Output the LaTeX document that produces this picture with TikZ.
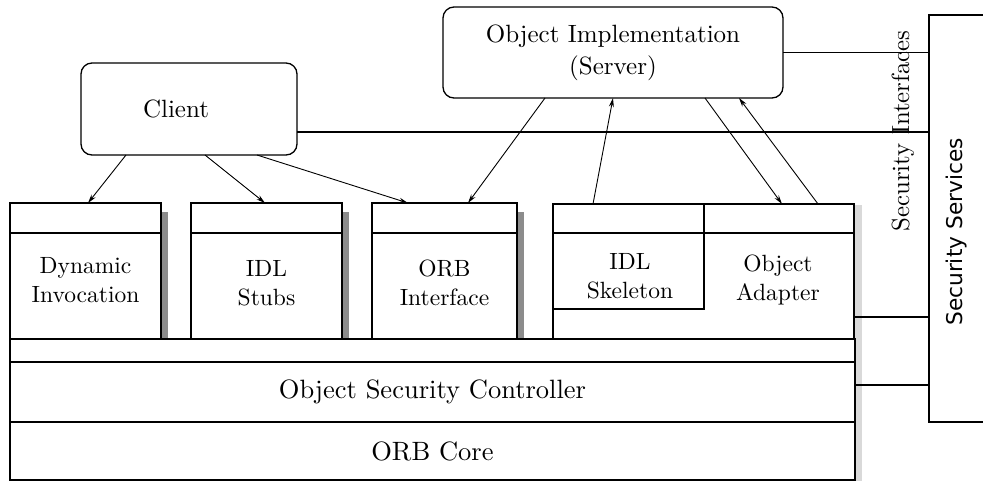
\documentclass[tikz,border=0pt]{standalone}
\usepackage{fontspec}
\setmainfont{lmroman10-regular}[Extension=.otf]
\newfontfamily\secsans{DejaVu Sans}
\usetikzlibrary{arrows.meta,calc}
\begin{document}
\begin{tikzpicture}[x=1pt,y=-1pt,line width=1.3pt,
  box/.style={draw,rectangle,inner sep=0pt,outer sep=0pt},
  actor/.style={draw,rounded corners=11pt,inner sep=0pt,outer sep=0pt,align=center,
    font=\fontsize{25}{32}\selectfont},
  lbl/.style={align=center,inner sep=0pt,font=\fontsize{23.5}{28.5}\selectfont},
  layer/.style={box,minimum width=845pt,font=\fontsize{26.5}{30}\selectfont},
  call/.style={-{Stealth[length=9pt,width=5pt]},line width=0.9pt},
  darkshade/.style={fill=black!45,draw=none},
  lightshade/.style={fill=black!15,draw=none}]
\useasboundingbox (0,0) rectangle (983,483);

% soft drop shadows on the right edges
\fill[lightshade] (855,205) rectangle (862,481);
\fill[darkshade] (162,212) rectangle (168,339);
\fill[darkshade] (343,212) rectangle (349,339);
\fill[darkshade] (518,212) rectangle (524,339);

% client and server
\node[actor,minimum width=216pt,minimum height=92pt] (client) at (189,109) {};
\node[inner sep=0pt,font=\fontsize{25}{32}\selectfont] (clienttext) at (176,109) {Client};
\node[actor,minimum width=340pt,minimum height=91pt] (server) at (613,52.5)
  {Object Implementation\\(Server)};

% client-side ORB components
\node[box,minimum width=151pt,minimum height=136pt] (dyn) at (85.5,271) {};
\node[box,minimum width=151pt,minimum height=136pt] (stubs) at (266.5,271) {};
\node[box,minimum width=145pt,minimum height=136pt] (orbif) at (444.5,271) {};
\foreach \b in {dyn,stubs,orbif}
  \draw ($(\b.north west)+(0,30)$) -- ($(\b.north east)+(0,30)$);
\node[lbl] (dyntext) at (85.5,280) {Dynamic\\Invocation};
\node[lbl] (stubstext) at (266.5,283) {IDL\\Stubs};
\node[lbl] (orbiftext) at (444.5,283) {ORB\\Interface};

% server-side ORB components
\node[box,minimum width=301pt,minimum height=135pt] (sgroup) at (703.5,271.5) {};
\node[box,minimum width=151pt,minimum height=105pt] (skel) at (628.5,256.5) {};
\node[minimum width=150pt,minimum height=135pt,inner sep=0pt,outer sep=0pt] (adapter) at (779,271.5) {};
\draw ($(sgroup.north west)+(0,29)$) -- ($(sgroup.north east)+(0,29)$);
\node[lbl] (skeltext) at (630,276) {IDL\\Skeleton};
\node[lbl] (adaptertext) at (778,280) {Object\\Adapter};

% layers below
\node[layer,minimum height=23pt] (bar) at (432.5,350.5) {};
\node[layer,minimum height=60pt] (osc) at (432.5,392) {Object Security Controller};
\node[layer,minimum height=58pt] (core) at (432.5,451) {ORB Core};

% security services
\node[minimum width=60pt,minimum height=407pt,inner sep=0pt,outer sep=0pt] (secserv) at (959,218.5) {};
\draw (secserv.north east) -- (secserv.north west) -- (secserv.south west) -- (secserv.south east);
\node[rotate=90,inner sep=0pt,font=\secsans\fontsize{21.7}{24}\selectfont] (sstext) at (957,232) {Security Services};
\node[rotate=90,inner sep=0pt,font=\fontsize{24.8}{28}\selectfont] (sitext) at (903,131) {Security Interfaces};

% security interface links
\draw (server.east) -- (server.east -| secserv.west);
\coordinate (cl) at ($(client.east)+(0,23)$);
\draw (cl) -- (cl -| secserv.west);
\coordinate (sl1) at ($(sgroup.east)+(0,45.5)$);
\draw (sl1) -- (sl1 -| secserv.west);
\coordinate (sl2) at ($(osc.east)+(0,-7)$);
\draw (sl2) -- (sl2 -| secserv.west);

% invocations
\draw[call] ($(client.south west)+(45,0)$) -- ($(dyn.north west)+(78,0)$);
\draw[call] ($(client.south west)+(124,0)$) -- ($(stubs.north west)+(74,0)$);
\draw[call] ($(client.south west)+(176,0)$) -- ($(orbif.north west)+(36,0)$);
\draw[call] ($(server.south west)+(102,0)$) -- ($(orbif.north west)+(96,0)$);
\draw[call] ($(skel.north west)+(40,0)$) -- ($(server.south west)+(170,0)$);
\draw[call] ($(server.south west)+(262,0)$) -- ($(adapter.north west)+(78,0)$);
\draw[call] ($(adapter.north west)+(114,0)$) -- ($(server.south west)+(296,0)$);
\end{tikzpicture}
\end{document}
